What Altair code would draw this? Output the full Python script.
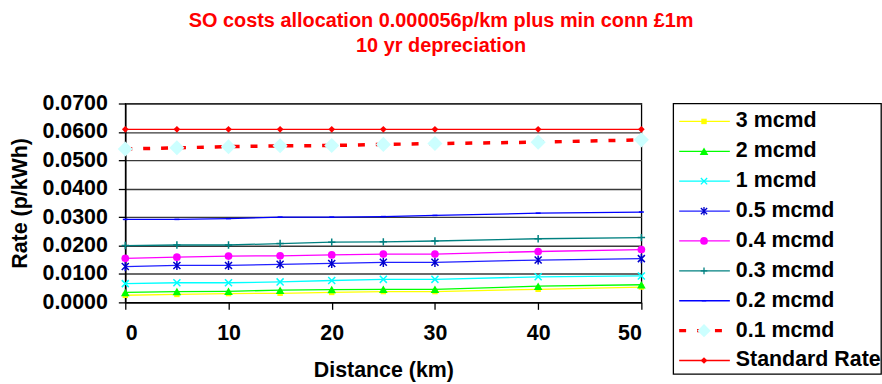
import altair as alt
import pandas as pd

# ---------------- data ----------------
distance_km = [0, 5, 10, 15, 20, 25, 30, 40, 50]

series_names = ["3 mcmd", "2 mcmd", "1 mcmd", "0.5 mcmd", "0.4 mcmd",
                "0.3 mcmd", "0.2 mcmd", "0.1 mcmd", "Standard Rate"]

rate_3_mcmd = [0.0025, 0.0028, 0.0031, 0.0032, 0.0035, 0.0038, 0.0038, 0.0046, 0.0054]
rate_2_mcmd = [0.0035, 0.0038, 0.0039, 0.0043, 0.0045, 0.0046, 0.0046, 0.0057, 0.0062]
rate_1_mcmd = [0.0066, 0.0069, 0.0069, 0.0072, 0.0077, 0.0081, 0.0081, 0.0090, 0.0093]
rate_05_mcmd = [0.0126, 0.0130, 0.0130, 0.0134, 0.0137, 0.0141, 0.0141, 0.0149, 0.0154]
rate_04_mcmd = [0.0155, 0.0159, 0.0163, 0.0164, 0.0167, 0.0170, 0.0170, 0.0179, 0.0186]
rate_03_mcmd = [0.0200, 0.0202, 0.0202, 0.0207, 0.0212, 0.0213, 0.0216, 0.0224, 0.0228]
rate_02_mcmd = [0.0292, 0.0292, 0.0295, 0.0300, 0.0300, 0.0302, 0.0306, 0.0314, 0.0318]
rate_01_mcmd = [0.0540, 0.0544, 0.0548, 0.0551, 0.0552, 0.0556, 0.0559, 0.0564, 0.0572]
standard_rate = [0.0609, 0.0609, 0.0609, 0.0609, 0.0609, 0.0609, 0.0609, 0.0609, 0.0609]

series_values = [rate_3_mcmd, rate_2_mcmd, rate_1_mcmd, rate_05_mcmd, rate_04_mcmd,
                 rate_03_mcmd, rate_02_mcmd, rate_01_mcmd, standard_rate]

x_ticks = [0, 10, 20, 30, 40, 50]
y_ticks = [0.0, 0.01, 0.02, 0.03, 0.04, 0.05, 0.06, 0.07]

title_lines = ["SO costs allocation 0.000056p/km plus min conn £1m", "10 yr depreciation"]

# ---------------- styles ----------------
X_PATH = "M-1,-1L1,1M-1,1L1,-1"
STAR_PATH = "M-1,-1L1,1M-1,1L1,-1M0,-1.3L0,1.3"
PLUS_PATH = "M-1,0L1,0M0,-1L0,1"
DASH_PATH = "M-1,0L1,0"

styles = {
    "3 mcmd":        dict(line="#FFFF00", width=1.3, dash=None, shape="square", size=30, filled=True, mcolor="#FFFF00"),
    "2 mcmd":        dict(line="#00FF00", width=1.3, dash=None, shape="triangle-up", size=75, filled=True, mcolor="#00FF00"),
    "1 mcmd":        dict(line="#00FFFF", width=1.3, dash=None, shape=X_PATH, size=50, filled=False, mcolor="#00FFFF"),
    "0.5 mcmd":      dict(line="#2020FF", width=1.3, dash=None, shape=STAR_PATH, size=50, filled=False, mcolor="#0000CC"),
    "0.4 mcmd":      dict(line="#FF00FF", width=1.3, dash=None, shape="circle", size=60, filled=True, mcolor="#FF00FF"),
    "0.3 mcmd":      dict(line="#008080", width=1.3, dash=None, shape=PLUS_PATH, size=55, filled=False, mcolor="#008080"),
    "0.2 mcmd":      dict(line="#0000FF", width=1.3, dash=None, shape=DASH_PATH, size=25, filled=False, mcolor="#0000FF"),
    "0.1 mcmd":      dict(line="#FF0000", width=3.5, dash=[7, 11], shape="diamond", size=230, filled=True, mcolor="#CCFFFF"),
    "Standard Rate": dict(line="#FF0000", width=1.3, dash=None, shape="diamond", size=45, filled=True, mcolor="#FF0000"),
}

FONT = "Liberation Sans"
FS = 21.5

rows = []
for name, vals in zip(series_names, series_values):
    for d, v in zip(distance_km, vals):
        rows.append({"series": name, "distance": d, "rate": v})
df = pd.DataFrame(rows)

x_enc = alt.X("distance:Q",
              scale=alt.Scale(domain=[0, 50], nice=False, zero=True),
              axis=alt.Axis(values=x_ticks, title="Distance (km)", format="d",
                            grid=False, tickSize=7, labelPadding=13, titlePadding=16))
y_enc = alt.Y("rate:Q",
              scale=alt.Scale(domain=[0, 0.07], nice=False),
              axis=alt.Axis(values=y_ticks, title="Rate (p/kWh)", format=".4f",
                            grid=True, tickSize=7, labelPadding=11, titlePadding=11))

layers = []
for name in series_names:
    st = styles[name]
    base = alt.Chart(df).transform_filter(alt.datum.series == name)
    line_kw = dict(color=st["line"], strokeWidth=st["width"])
    if st["dash"]:
        line_kw["strokeDash"] = st["dash"]
    layers.append(base.mark_line(**line_kw).encode(x=x_enc, y=y_enc))
    if st["filled"]:
        pt = base.mark_point(shape=st["shape"], size=st["size"], filled=True,
                             color=st["mcolor"], opacity=1)
    else:
        pt = base.mark_point(shape=st["shape"], size=st["size"], filled=False,
                             color=st["mcolor"], strokeWidth=1.5, opacity=1)
    layers.append(pt.encode(x=x_enc, y=y_enc))

main = alt.layer(*layers).properties(width=519, height=200)

# ---------------- legend panel ----------------
leg_index = list(range(len(series_names)))
leg_df = pd.DataFrame({"series": series_names, "idx": leg_index})
leg_y = alt.Y("idx:Q", scale=alt.Scale(domain=[-0.6, 8.45], reverse=True, nice=False, zero=False),
              axis=None)
leg_layers = []
for name in series_names:
    st = styles[name]
    base = alt.Chart(leg_df).transform_filter(alt.datum.series == name)
    rk = dict(color=st["line"], strokeWidth=st["width"])
    if st["dash"]:
        rk["strokeDash"] = st["dash"]
    leg_layers.append(base.mark_rule(**rk).encode(x=alt.value(6), x2=alt.value(57), y=leg_y))
    if st["filled"]:
        pt = base.mark_point(shape=st["shape"], size=st["size"] if name != "0.1 mcmd" else 180,
                             filled=True, color=st["mcolor"], opacity=1)
    else:
        pt = base.mark_point(shape=st["shape"], size=st["size"] * 0.8, filled=False,
                             color=st["mcolor"], strokeWidth=1.3, opacity=1)
    leg_layers.append(pt.encode(x=alt.value(31), y=leg_y))
leg_layers.append(
    alt.Chart(leg_df).mark_text(align="left", baseline="middle", font=FONT,
                                fontSize=FS, fontWeight="bold", color="black")
    .encode(x=alt.value(63), y=leg_y, text="series:N")
)
legend = alt.layer(*leg_layers).properties(width=209, height=272)

chart = (
    alt.hconcat(main, legend, spacing=22)
    .properties(
        title=alt.TitleParams(text=title_lines, anchor="middle", font=FONT, fontSize=20,
                              fontWeight="bold", color="#FF0000", lineHeight=25.5,
                              offset=36, dx=-4),
        padding={"left": 8, "top": 9, "right": 0, "bottom": 0},
        background="white",
    )
    .configure_view(stroke="black", strokeWidth=1.3)
    .configure_axis(labelFont=FONT, titleFont=FONT, labelFontSize=FS, titleFontSize=FS,
                    labelFontWeight="bold", titleFontWeight="bold", labelColor="black",
                    titleColor="black", domainColor="black", domainWidth=1.5,
                    tickColor="black", tickWidth=1.3, gridColor="#3a3a3a", gridWidth=1.4,
                    gridOpacity=1)
)

chart.save("out.html", embed_options={"renderer": "svg", "actions": False})
